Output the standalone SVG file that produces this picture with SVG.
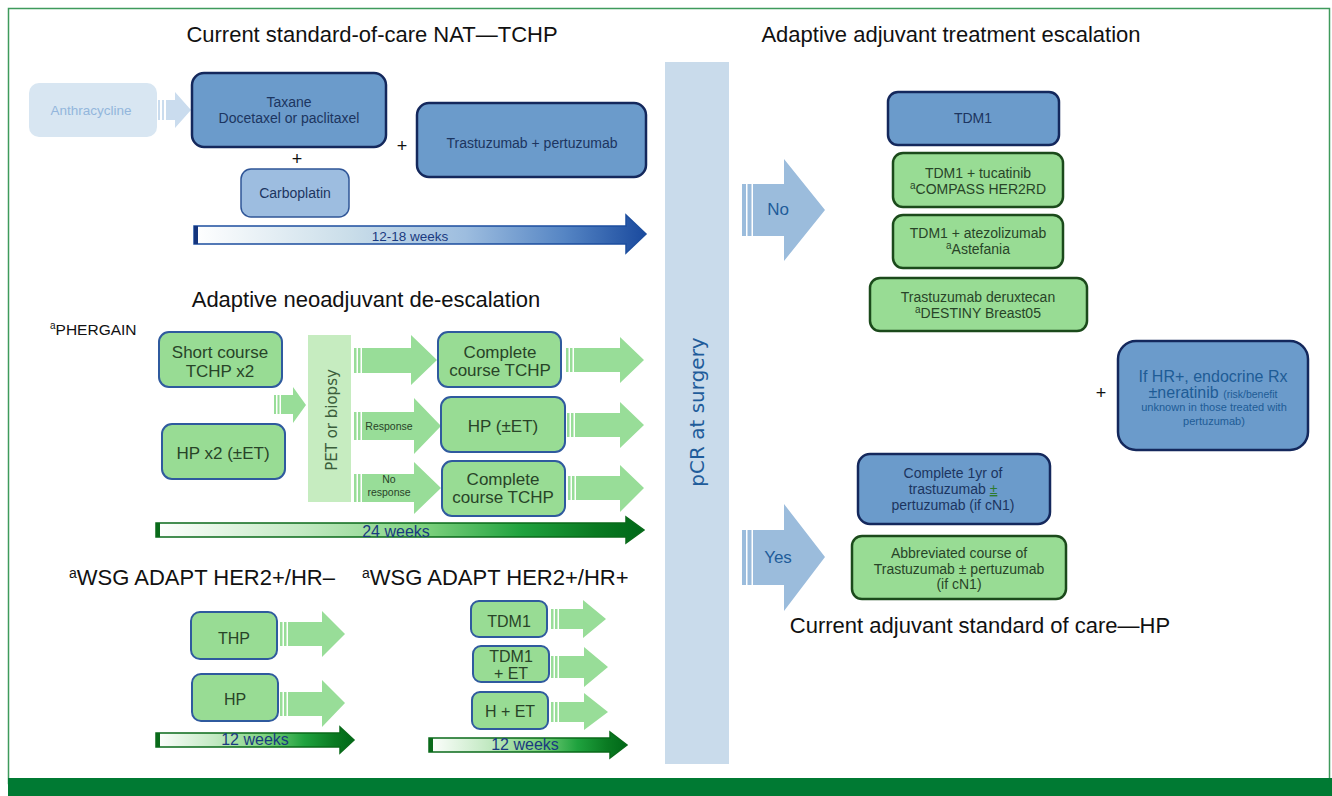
<svg xmlns="http://www.w3.org/2000/svg" width="1332" height="796" viewBox="0 0 1332 796">
<defs>
<linearGradient id="gBlue" x1="0" y1="0" x2="1" y2="0">
<stop offset="0" stop-color="#ffffff"/><stop offset="0.35" stop-color="#c9dde9"/><stop offset="0.6" stop-color="#9dbddf"/><stop offset="0.82" stop-color="#5585c4"/><stop offset="1" stop-color="#1a4a9e"/>
</linearGradient>
<linearGradient id="gGreen" x1="0" y1="0" x2="1" y2="0">
<stop offset="0" stop-color="#ffffff"/><stop offset="0.3" stop-color="#c2e9c2"/><stop offset="0.55" stop-color="#7fd27f"/><stop offset="0.75" stop-color="#1fa23e"/><stop offset="0.9" stop-color="#0a7a22"/><stop offset="1" stop-color="#006818"/>
</linearGradient>
<style>
text{font-family:"Liberation Sans",Arial,sans-serif;}
.title{font-size:22px;fill:#111;}
.bb{fill:#6b9bcb;stroke:#14285c;stroke-width:2.5;}
.gb{fill:#98dc94;stroke:#2f5a9e;stroke-width:2;}
.gbr{fill:#98dc94;stroke:#1b4a1b;stroke-width:2.5;}
.ga{fill:#98dd98;}
.ba{fill:#9bbcdc;}
.la{fill:#cadcee;}
.bt{fill:#1c3560;font-size:14px;text-anchor:middle;}
.gt{fill:#284428;text-anchor:middle;}
.plus{font-size:18px;fill:#111;text-anchor:middle;}
.wk{fill:#1a3a80;text-anchor:middle;}
</style>
</defs>
<rect x="8.5" y="8.5" width="1321" height="775" fill="#ffffff" stroke="#3f9a5c" stroke-width="1.5"/>
<rect x="8" y="778" width="1324" height="18" fill="#007a33"/>

<!-- Titles -->
<text class="title" x="372" y="42" text-anchor="middle">Current standard-of-care NAT—TCHP</text>
<text class="title" x="951" y="42" text-anchor="middle">Adaptive adjuvant treatment escalation</text>
<text class="title" x="366" y="307" text-anchor="middle">Adaptive neoadjuvant de-escalation</text>
<text class="title" x="69" y="585" font-size="20.5"><tspan font-size="14" dy="-7">a</tspan><tspan dy="7">WSG ADAPT HER2+/HR–</tspan></text>
<text class="title" x="362" y="585" font-size="20.5"><tspan font-size="14" dy="-7">a</tspan><tspan dy="7">WSG ADAPT HER2+/HR+</tspan></text>
<text class="title" x="980" y="633" text-anchor="middle">Current adjuvant standard of care—HP</text>
<text x="50" y="335" font-size="15.5" fill="#111"><tspan font-size="10" dy="-6">a</tspan><tspan dy="6">PHERGAIN</tspan></text>

<!-- pCR bar -->
<g id="pcr">
<rect x="665" y="62" width="64" height="702" fill="#c9dbeb"/>
<text transform="translate(704,412) rotate(-90)" text-anchor="middle" font-size="20" fill="#1f5c9a" style="font-family:'DejaVu Sans',sans-serif">pCR at surgery</text>
</g>

<!-- Connectors -->
<g id="connectors">
<g class="la"><rect x="158" y="100" width="2" height="20"/><rect x="162" y="100" width="2" height="20"/><polygon points="166,100 175,100 175,92 191,110 175,128 175,120 166,120"/></g>
<g class="ga"><rect x="274" y="395" width="2" height="19"/><rect x="277.5" y="395" width="2" height="19"/><polygon points="281,395 293,395 293,387 306,405 293,423 293,414 281,414"/></g>
<g class="ga"><rect x="354" y="348" width="2.5" height="25"/><rect x="358" y="348" width="2.5" height="25"/><polygon points="362,348 411,348 411,335 437,360 411,385 411,373 362,373"/></g>
<g class="ga"><rect x="354" y="412" width="2.5" height="28"/><rect x="358" y="412" width="2.5" height="28"/><polygon points="362,412 414,412 414,398 441,426 414,454 414,440 362,440"/></g>
<g class="ga"><rect x="354" y="474" width="2.5" height="28"/><rect x="358" y="474" width="2.5" height="28"/><polygon points="362,474 414,474 414,462 441,488 414,514 414,502 362,502"/></g>
<g class="ga"><rect x="566" y="348" width="2.5" height="24"/><rect x="570" y="348" width="2.5" height="24"/><polygon points="574,348 620,348 620,337 644,360 620,383 620,372 574,372"/></g>
<g class="ga"><rect x="567" y="413" width="2.5" height="24"/><rect x="571" y="413" width="2.5" height="24"/><polygon points="575,413 620,413 620,402 644,425 620,448 620,437 575,437"/></g>
<g class="ga"><rect x="568" y="476" width="2.5" height="24"/><rect x="572" y="476" width="2.5" height="24"/><polygon points="576,476 620,476 620,465 644,488 620,512 620,500 576,500"/></g>
<g class="ga"><rect x="280" y="622" width="2.5" height="24"/><rect x="284" y="622" width="2.5" height="24"/><polygon points="288,622 322,622 322,611 345,634 322,657 322,646 288,646"/></g>
<g class="ga"><rect x="280" y="692" width="2.5" height="24"/><rect x="284" y="692" width="2.5" height="24"/><polygon points="288,692 322,692 322,680 345,703 322,727 322,716 288,716"/></g>
<g class="ga"><rect x="551" y="609" width="2.5" height="20"/><rect x="555" y="609" width="2.5" height="20"/><polygon points="559,609 583,609 583,600 606,619 583,638 583,629 559,629"/></g>
<g class="ga"><rect x="551" y="656" width="2.5" height="22"/><rect x="555" y="656" width="2.5" height="22"/><polygon points="559,656 584,656 584,647 608,667 584,687 584,678 559,678"/></g>
<g class="ga"><rect x="551" y="702" width="2.5" height="20"/><rect x="555" y="702" width="2.5" height="20"/><polygon points="559,702 584,702 584,693 608,712 584,730 584,722 559,722"/></g>
<g class="ba"><rect x="742" y="184" width="4" height="52"/><rect x="747.5" y="184" width="4" height="52"/><polygon points="753,184 784,184 784,159 825,210 784,261 784,236 753,236"/></g>
<text x="778" y="215" font-size="17" fill="#1f5c9a" text-anchor="middle">No</text>
<g class="ba"><rect x="742" y="530" width="4" height="55"/><rect x="747.5" y="530" width="4" height="55"/><polygon points="753,530 784,530 784,504 825,557 784,611 784,585 753,585"/></g>
<text x="778" y="563" font-size="17" fill="#1f5c9a" text-anchor="middle">Yes</text>
<polygon points="194,226 626,226 626,215 646,234 626,253 626,244 194,244" fill="url(#gBlue)" stroke="#1d4e9e" stroke-width="1.5"/>
<rect x="194" y="226" width="4" height="18" fill="#14357e"/>
<text class="wk" x="410" y="241" font-size="13.5">12-18 weeks</text>
<polygon points="156,523 626,523 626,517 644,530 626,543 626,537 156,537" fill="url(#gGreen)" stroke="#0a6a1a" stroke-width="1.5"/>
<rect x="156" y="523" width="4" height="14" fill="#0a6a1a"/>
<text class="wk" x="396" y="537" font-size="16">24 weeks</text>
<polygon points="156,733 340,733 340,727 354,740 340,753 340,747 156,747" fill="url(#gGreen)" stroke="#0a6a1a" stroke-width="1.5"/>
<rect x="156" y="733" width="4" height="14" fill="#0a6a1a"/>
<text class="wk" x="255" y="745" font-size="16">12 weeks</text>
<polygon points="429,738 610,738 610,732 627,745 610,758 610,752 429,752" fill="url(#gGreen)" stroke="#0a6a1a" stroke-width="1.5"/>
<rect x="429" y="738" width="4" height="14" fill="#0a6a1a"/>
<text class="wk" x="525" y="750" font-size="16">12 weeks</text>
</g>

<!-- Top-left nodes -->
<g id="anthracycline">
<rect x="29" y="83" width="128" height="54" rx="10" fill="#d8e6f2"/>
<text x="91" y="115" font-size="13.5" fill="#93b6dc" text-anchor="middle">Anthracycline</text>
</g>
<g id="taxane">
<rect class="bb" x="192" y="73" width="194" height="74" rx="12"/>
<text class="bt" x="289" y="107">Taxane</text>
<text class="bt" x="289" y="123">Docetaxel or paclitaxel</text>
</g>
<text class="plus" x="297" y="165">+</text>
<g id="carboplatin">
<rect x="241" y="169" width="108" height="48" rx="10" fill="#9dbde0" stroke="#2f5597" stroke-width="1.5"/>
<text class="bt" x="295" y="198">Carboplatin</text>
</g>
<text class="plus" x="402" y="152">+</text>
<g id="trastuzumab-pertuzumab">
<rect class="bb" x="417" y="103" width="229" height="74" rx="12"/>
<text class="bt" x="532" y="148" font-size="13.5">Trastuzumab + pertuzumab</text>
</g>

<!-- PHERGAIN -->
<g id="short-course">
<rect class="gb" x="159" y="332" width="123" height="55" rx="10"/>
<text class="gt" x="220" y="358" font-size="17">Short course</text>
<text class="gt" x="220" y="377" font-size="17">TCHP x2</text>
</g>
<g id="hp-x2">
<rect class="gb" x="162" y="424" width="123" height="55" rx="10"/>
<text class="gt" x="223" y="459" font-size="17">HP x2 (±ET)</text>
</g>
<g id="pet-biopsy">
<rect x="308" y="335" width="43" height="167" fill="#c6ecc0"/>
<text transform="translate(337,420) rotate(-90)" text-anchor="middle" font-size="15" fill="#3b5e3b" style="font-family:'DejaVu Sans',sans-serif">PET or biopsy</text>
</g>
<text class="gt" x="389" y="430" font-size="10.5">Response</text>
<text class="gt" x="389" y="483" font-size="10.5">No</text>
<text class="gt" x="389" y="496" font-size="10.5">response</text>
<g id="complete-tchp-1">
<rect class="gb" x="438" y="332" width="123" height="55" rx="10"/>
<text class="gt" x="500" y="358" font-size="17">Complete</text>
<text class="gt" x="500" y="376" font-size="17">course TCHP</text>
</g>
<g id="hp-et">
<rect class="gb" x="441" y="397" width="124" height="55" rx="10"/>
<text class="gt" x="503" y="432" font-size="17">HP (±ET)</text>
</g>
<g id="complete-tchp-2">
<rect class="gb" x="442" y="461" width="123" height="55" rx="10"/>
<text class="gt" x="503" y="485" font-size="17">Complete</text>
<text class="gt" x="503" y="503" font-size="17">course TCHP</text>
</g>

<!-- WSG -->
<g id="thp">
<rect class="gb" x="191" y="612" width="86" height="47" rx="9"/>
<text class="gt" x="234" y="644" font-size="16">THP</text>
</g>
<g id="hp">
<rect class="gb" x="192" y="674" width="86" height="47" rx="9"/>
<text class="gt" x="235" y="705" font-size="16">HP</text>
</g>
<g id="tdm1-wsg">
<rect class="gb" x="471" y="601" width="76" height="36" rx="8"/>
<text class="gt" x="509" y="627" font-size="16">TDM1</text>
</g>
<g id="tdm1-et">
<rect class="gb" x="473" y="646" width="76" height="36" rx="8"/>
<text class="gt" x="511" y="662" font-size="16">TDM1</text>
<text class="gt" x="511" y="679" font-size="16">+ ET</text>
</g>
<g id="h-et">
<rect class="gb" x="472" y="692" width="76" height="37" rx="8"/>
<text class="gt" x="510" y="717" font-size="16">H + ET</text>
</g>

<!-- Right side -->
<g id="tdm1">
<rect class="bb" x="888" y="92" width="171" height="53" rx="10"/>
<text class="bt" x="973" y="123">TDM1</text>
</g>
<g id="tdm1-tucatinib">
<rect class="gbr" x="893" y="153" width="170" height="54" rx="10"/>
<text class="gt" x="978" y="178" font-size="14">TDM1 + tucatinib</text>
<text class="gt" x="978" y="194" font-size="14"><tspan font-size="10" dy="-5">a</tspan><tspan dy="5">COMPASS HER2RD</tspan></text>
</g>
<g id="tdm1-atezolizumab">
<rect class="gbr" x="893" y="215" width="170" height="53" rx="10"/>
<text class="gt" x="978" y="238" font-size="14">TDM1 + atezolizumab</text>
<text class="gt" x="978" y="254" font-size="14"><tspan font-size="10" dy="-5">a</tspan><tspan dy="5">Astefania</tspan></text>
</g>
<g id="trastuzumab-deruxtecan">
<rect class="gbr" x="870" y="278" width="217" height="53" rx="10"/>
<text class="gt" x="978" y="302" font-size="14">Trastuzumab deruxtecan</text>
<text class="gt" x="978" y="318" font-size="14"><tspan font-size="10" dy="-5">a</tspan><tspan dy="5">DESTINY Breast05</tspan></text>
</g>
<text class="plus" x="1101" y="399">+</text>
<g id="endocrine">
<rect class="bb" x="1118" y="341" width="190" height="109" rx="18"/>
<text x="1213" y="382" font-size="16" fill="#1e5c96" text-anchor="middle">If HR+, endocrine Rx</text>
<text x="1213" y="398" fill="#1e5c96" text-anchor="middle"><tspan font-size="16">±neratinib </tspan><tspan font-size="10.5">(risk/benefit</tspan></text>
<text x="1214" y="411" font-size="11" fill="#1e5c96" text-anchor="middle">unknown in those treated with</text>
<text x="1214" y="425" font-size="11" fill="#1e5c96" text-anchor="middle">pertuzumab)</text>
</g>
<g id="complete-1yr">
<rect class="bb" x="858" y="454" width="192" height="70" rx="12"/>
<text class="bt" x="953" y="478">Complete 1yr of</text>
<text class="bt" x="953" y="494">trastuzumab <tspan fill="#2d7a2d" text-decoration="underline">±</tspan></text>
<text class="bt" x="953" y="510">pertuzumab (if cN1)</text>
</g>
<g id="abbreviated">
<rect class="gbr" x="852" y="536" width="214" height="63" rx="10"/>
<text class="gt" x="959" y="558" font-size="14">Abbreviated course of</text>
<text class="gt" x="959" y="574" font-size="14">Trastuzumab ± pertuzumab</text>
<text class="gt" x="959" y="589" font-size="14">(if cN1)</text>
</g>
</svg>
